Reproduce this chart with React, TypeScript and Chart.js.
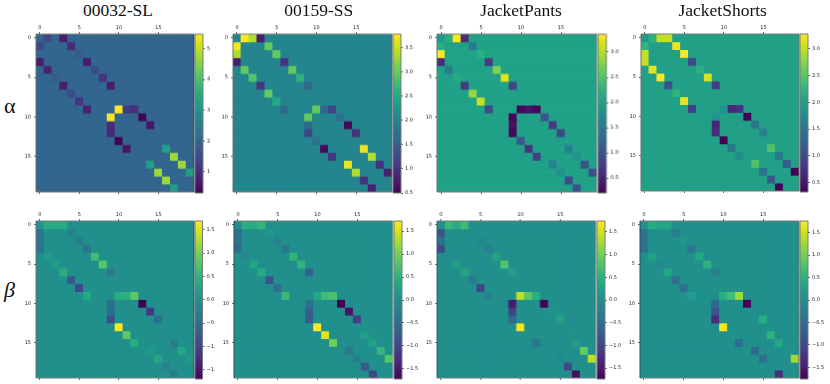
import React, { useEffect, useRef } from "react";
import { Chart, registerables } from "chart.js";

Chart.register(...registerables);

const cellRows = [0,0,0,0, 1,1, 2,2, 3,3, 4,4, 5,5, 6,6, 7, 8, 9,9,9,9, 10,10, 11,11, 12,12, 13, 14,14, 15,15, 16,16, 17,17, 18, 19];
const cellCols = [0,1,2,3, 0,4, 0,5, 0,6, 1,7, 2,8, 3,9, 4, 5, 6,10,11,12, 9,13, 9,14, 9,15, 10, 11,16, 12,17, 14,18, 15,19, 16, 17];

const alpha00032 = [2,1.4,2,0.7, 1.4,0.9, 2,1.8, 0.7,0.7, 0.8,1.5, 1.8,1.1, 0.7,0.7, 1.5, 1.1, 0.8,5.47,1.2,1.0, 5.4,0.35, 1.0,0.6, 0.9,2, 0.31, 0.6,3.2, 2,4.7, 3.2,4.7, 4.7,3.2, 4.7, 3.2];
const alpha00159 = [2,3.79,3.4,0.75, 3.75,3.0, 3.4,3.0, 0.75,1.0, 3.0,3.0, 2.9,2.6, 1.0,1.6, 3.0, 2.5, 1.6,3.0,1.6,1.15, 3.0,1.7, 1.6,0.55, 1.2,1.0, 1.7, 0.6,3.7, 1.0,3.4, 3.7,0.95, 3.4,0.8, 1.0, 0.8];
const alphaPants = [1.9,2.2,3.36,0.6, 2.2,1.5, 3.35,2.2, 0.6,0.75, 1.55,2.75, 2.15,3.2, 0.75,0.85, 2.85, 3.1, 0.9,0.25,0.35,0.25, 0.25,1.05, 0.35,0.75, 0.25,0.85, 1.05, 0.7,1.6, 0.8,1.8, 1.6,1.0, 1.8,0.95, 0.95, 1.0];
const alphaShorts = [1.9,2.2,3.0,3.0, 2.25,3.2, 3.0,3.25, 3.0,1.0, 3.15,2.2, 3.25,3.1, 1.05,0.85, 2.25, 3.15, 0.85,1.9,0.65,0.75, 1.85,0.35, 0.65,1.45, 0.7,1.6, 0.35, 1.5,2.45, 1.75,1.5, 2.45,1.2, 1.45,0.35, 1.15, 0.35];
const beta00032 = [0.05,0.4,0.4,0.4, -0.35,-0.2, -0.35,-0.25, -0.4,-0.4, 0.15,0.65, 0.15,0.8, 0.4,-0.35, -0.75, -1.0, 0.35,0.4,0.45,0.85, -0.45,-1.7, -0.45,-1.15, -0.9,-0.45, 1.69, 0.85,-0.1, 0.4,-0.25, 0.1,0.3, 0.3,0.15, -0.2, -0.3];
const beta00159 = [-0.05,0.45,0.4,0.55, -0.45,0.1, -0.4,-0.2, -0.55,-0.35, -0.1,0.55, 0.3,0.5, 0.4,-0.65, -0.85, -0.45, 0.6,0.35,0.65,0.75, -0.4,-1.72, -0.7,-1.55, -0.75,-1.05, 1.72, 1.55,0.2, 0.95,0.25, -0.35,0.55, -0.25,0.8, -0.75, -1.0];
const betaPants = [0,0.6,0.4,0.65, -0.85,0, -0.45,-0.15, -0.95,-0.2, -0.05,0.3, 0.2,0.8, 0.3,0.25, -0.3, -1.0, -0.2,1.4,0.85,0.45, -1.5,-1.74, -1.05,0.05, -0.55,0.3, 1.7, 0,0.03, -0.4,0.2, 0,0.9, -0.1,1.4, -1.0, -1.6];
const betaShorts = [-0.03,0.45,0.35,0.35, -0.45,-0.25, -0.45,0.15, -0.45,-0.4, 0.25,0.35, -0.15,0.5, 0.35,-0.25, -0.5, -0.5, 0.2,0.45,0.7,1.25, -0.55,-1.76, -0.85,-0.02, -1.3,0.45, 1.76, 0.02,0.5, -0.5,0.35, -0.55,0.02, -0.5,1.25, -0.02, -1.3];

const alphaBase = [2, 2, 2, 2];
const tickPositions = [0, 5, 10, 15];
const indexLabels = Array.from({ length: 20 }, (_, i) => String(i));

const viridis = ["#440154","#481a6c","#472f7d","#414487","#39568c","#31688e","#2a788e","#23888e","#1f988b","#22a884","#35b779","#54c568","#7ad151","#a5db36","#d2e21b","#fde725"];

type Panel = {
  title?: string; values: number[]; base: number; min: number; max: number; ticks: number[];
  px: number; py: number; pw: number; ph: number; cx: number; cw: number; labelW: number;
  edgeL: string; edgeR: string;
};

const dark = "#2a4a52", mid = "#6e6e6e", light = "#a8a8a8";

const panels: Panel[] = [
  { title: "00032-SL", values: alpha00032, base: alphaBase[0], min: 0.31, max: 5.47, ticks: [1,2,3,4,5], px: 36, py: 34.3, pw: 158, ph: 159.7, cx: 194.7, cw: 8, labelW: 22, edgeL: mid, edgeR: dark },
  { title: "00159-SS", values: alpha00159, base: alphaBase[1], min: 0.5, max: 3.79, ticks: [0.5,1,1.5,2,2.5,3,3.5], px: 233.3, py: 34.3, pw: 159, ph: 159.7, cx: 393, cw: 8, labelW: 20, edgeL: mid, edgeR: mid },
  { title: "JacketPants", values: alphaPants, base: alphaBase[2], min: 0.2, max: 3.36, ticks: [0.5,1,1.5,2,2.5,3], px: 437.3, py: 34.3, pw: 160, ph: 159.7, cx: 598.3, cw: 8.4, labelW: 20, edgeL: mid, edgeR: light },
  { title: "JacketShorts", values: alphaShorts, base: alphaBase[3], min: 0.33, max: 3.27, ticks: [0.5,1,1.5,2,2.5,3], px: 640.7, py: 34.3, pw: 158.3, ph: 159, cx: 799.7, cw: 8, labelW: 20, edgeL: mid, edgeR: mid },
  { values: beta00032, base: 0, min: -1.7, max: 1.69, ticks: [-1.5,-1,-0.5,0,0.5,1,1.5], px: 36, py: 220.7, pw: 158, ph: 159.3, cx: 194.7, cw: 8, labelW: 12.5, edgeL: mid, edgeR: dark },
  { values: beta00159, base: 0, min: -1.72, max: 1.72, ticks: [-1.5,-1,-0.5,0,0.5,1,1.5], px: 234.3, py: 220.7, pw: 159, ph: 159.3, cx: 394, cw: 8, labelW: 22, edgeL: dark, edgeR: light },
  { values: betaPants, base: 0, min: -1.74, max: 1.74, ticks: [-1.5,-1,-0.5,0,0.5,1,1.5], px: 437.3, py: 220.7, pw: 158.7, ph: 159.3, cx: 597, cw: 8.3, labelW: 22, edgeL: dark, edgeR: light },
  { values: betaShorts, base: 0, min: -1.76, max: 1.76, ticks: [-1.5,-1,-0.5,0,0.5,1,1.5], px: 639.7, py: 220.7, pw: 159.3, ph: 159.3, cx: 799.7, cw: 8, labelW: 22, edgeL: dark, edgeR: mid },
];

const axisLeft = 18, axisTop = 12, axisBottom = 4, edge = 1;
const tickFont = { family: "DejaVu Sans", size: 5 };
const tickColor = "#222";
const frameColor = "#7a7a7a";

function hexToRgb(h: string) {
  return [1, 3, 5].map((i) => parseInt(h.slice(i, i + 2), 16));
}
function colormap(t: number) {
  const f = Math.max(0, Math.min(1, t)) * (viridis.length - 1);
  const i = Math.min(viridis.length - 2, Math.floor(f));
  const a = hexToRgb(viridis[i]), b = hexToRgb(viridis[i + 1]);
  const c = a.map((v, k) => Math.round(v + (b[k] - v) * (f - i)));
  return `rgb(${c[0]},${c[1]},${c[2]})`;
}

const framePlugin = {
  id: "frame",
  afterDraw(chart: any, _args: any, opts: any) {
    const { ctx, chartArea: a } = chart;
    const line = (x0: number, y0: number, x1: number, y1: number, c: string) => {
      ctx.strokeStyle = c;
      ctx.beginPath();
      ctx.moveTo(x0, y0);
      ctx.lineTo(x1, y1);
      ctx.stroke();
    };
    ctx.save();
    ctx.lineWidth = 1;
    line(a.left, a.top, a.right, a.top, frameColor);
    line(a.left, a.bottom, a.right, a.bottom, frameColor);
    line(a.left, a.top, a.left, a.bottom, opts.left || frameColor);
    line(a.right, a.top, a.right, a.bottom, opts.right || frameColor);
    ctx.restore();
  },
};
const basePlugin = {
  id: "plotBase",
  beforeDatasetsDraw(chart: any, _args: any, opts: any) {
    const { ctx, chartArea: a } = chart;
    ctx.fillStyle = opts.color;
    ctx.fillRect(a.left, a.top, a.right - a.left, a.bottom - a.top);
  },
};

function fixedTicks(values: number[]) {
  return (scale: any) => {
    scale.ticks = values.map((value) => ({ value }));
  };
}

function heatConfig(p: Panel): any {
  const color = (v: number) => colormap((v - p.min) / (p.max - p.min));
  const datasets = Array.from({ length: 20 }, (_, r) => {
    const rowValues = indexLabels.map((_l, c) => {
      const k = cellRows.findIndex((rr, idx) => rr === r && cellCols[idx] === c);
      return k >= 0 ? p.values[k] : p.base;
    });
    return {
      data: rowValues.map(() => [r - 0.5, r + 0.5]),
      backgroundColor: rowValues.map(color),
      borderWidth: 0,
      barPercentage: 1,
      categoryPercentage: 1,
      grouped: false,
    };
  });
  const xAxis = (position: string, showLabels: boolean) => ({
    type: "category",
    position,
    labels: indexLabels,
    offset: true,
    border: { display: false },
    grid: { offset: false, drawOnChartArea: false, drawTicks: true, tickLength: 2, tickWidth: 0.7, color: (c: any) => (c.index % 5 === 0 ? tickColor : "transparent") },
    ticks: {
      display: showLabels, autoSkip: false, maxRotation: 0, minRotation: 0, padding: 1, color: tickColor, font: tickFont,
      callback: (_v: any, i: number) => (i % 5 === 0 ? indexLabels[i] : ""),
    },
    afterFit: (s: any) => { s.height = position === "top" ? axisTop : axisBottom; },
  });
  return {
    type: "bar",
    data: { labels: indexLabels, datasets },
    plugins: [basePlugin, framePlugin],
    options: {
      animation: false, responsive: false, maintainAspectRatio: false,
      layout: { padding: { right: edge, left: 0, top: 0, bottom: 0 } },
      plugins: { legend: { display: false }, title: { display: false }, tooltip: { enabled: false }, plotBase: { color: color(p.base) }, frame: { left: p.edgeL, right: p.edgeR } },
      scales: {
        x: xAxis("top", true),
        xBottom: xAxis("bottom", false),
        y: {
          type: "linear", reverse: true, min: -0.5, max: 19.5, position: "left",
          afterBuildTicks: fixedTicks(tickPositions),
          border: { display: false },
          grid: { drawOnChartArea: false, drawTicks: true, tickLength: 2, tickWidth: 0.7, color: tickColor },
          ticks: { padding: 3, color: tickColor, font: tickFont, callback: (v: number) => String(v) },
          afterFit: (s: any) => { s.width = axisLeft; },
        },
      },
    },
  };
}

function barConfig(p: Panel): any {
  return {
    type: "bar",
    data: {
      labels: ["scale"],
      datasets: [{
        data: [[p.min, p.max]],
        barPercentage: 1, categoryPercentage: 1, borderWidth: 0,
        backgroundColor: (c: any) => {
          const a = c.chart.chartArea;
          if (!a) return viridis[0];
          const g = c.chart.ctx.createLinearGradient(0, a.bottom, 0, a.top);
          viridis.forEach((col, i) => g.addColorStop(i / (viridis.length - 1), col));
          return g;
        },
      }],
    },
    plugins: [framePlugin],
    options: {
      animation: false, responsive: false, maintainAspectRatio: false,
      layout: { padding: { top: axisTop, bottom: axisBottom, left: 1, right: 0 } },
      plugins: { legend: { display: false }, tooltip: { enabled: false } },
      scales: {
        x: { display: false, type: "category", offset: true },
        y: {
          type: "linear", position: "right", min: p.min, max: p.max,
          afterBuildTicks: fixedTicks(p.ticks),
          border: { display: false },
          grid: { drawOnChartArea: false, drawTicks: true, tickLength: 2, tickWidth: 0.7, color: tickColor },
          ticks: { padding: 2, color: tickColor, font: tickFont, callback: (v: number) => (v < 0 ? "\u2212" + Math.abs(v).toFixed(p.ticks.length > 5 ? 1 : 0) : v.toFixed(p.ticks.length > 5 ? 1 : 0)) },
          afterFit: (s: any) => { s.width = p.labelW; },
        },
      },
    },
  };
}

function HeatPanel({ p }: { p: Panel }) {
  const heatRef = useRef<HTMLCanvasElement>(null);
  const barRef = useRef<HTMLCanvasElement>(null);
  useEffect(() => {
    const a = new Chart(heatRef.current!, heatConfig(p));
    const b = new Chart(barRef.current!, barConfig(p));
    return () => { a.destroy(); b.destroy(); };
  }, [p]);
  const heatW = p.pw + axisLeft + edge, h = p.ph + axisTop + axisBottom;
  const left = p.px - axisLeft, top = p.py - axisTop;
  const barW = 1 + p.cw + p.labelW;
  return (
    <>
      <canvas ref={heatRef} width={heatW} height={h} style={{ position: "absolute", left, top, width: heatW, height: h }} />
      <canvas ref={barRef} width={barW} height={h} style={{ position: "absolute", left: p.cx - 1, top, width: barW, height: h }} />
    </>
  );
}

const titleStyle: React.CSSProperties = { position: "absolute", top: -0.5, transform: "translateX(-50%)", fontFamily: "'Liberation Serif', serif", fontSize: 17.5, lineHeight: "20px", whiteSpace: "nowrap", color: "#111" };
const titleCentres = [118, 318.7, 521, 722.7];

export default function App() {
  return (
    <div style={{ position: "absolute", left: 0, top: 0, width: 830, height: 384, background: "#fff", overflow: "hidden", filter: "blur(0.5px)" }}>
      {panels.map((p, i) => <HeatPanel key={i} p={p} />)}
      {panels.slice(0, 4).map((p, i) => <div key={i} style={{ ...titleStyle, left: titleCentres[i] }}>{p.title}</div>)}
      <div style={{ position: "absolute", left: 4, top: 94, fontFamily: "'Liberation Serif', serif", fontSize: 22, lineHeight: "24px", color: "#111" }}>α</div>
      <div style={{ position: "absolute", left: 4, top: 277, fontFamily: "'Liberation Serif', serif", fontStyle: "italic", fontSize: 22, lineHeight: "26px", color: "#111" }}>β</div>
    </div>
  );
}
